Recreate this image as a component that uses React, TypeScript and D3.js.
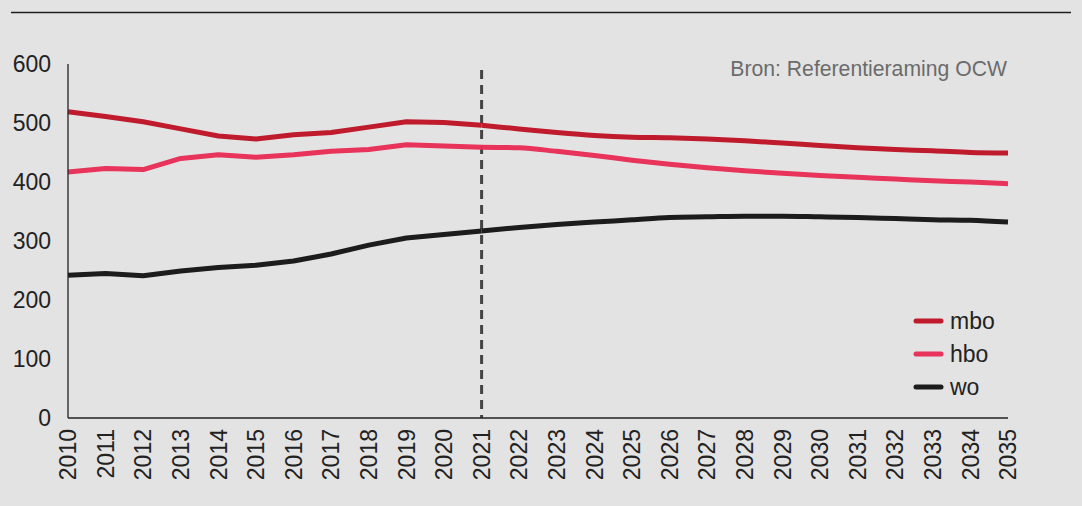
import React from "react";
import * as d3 from "d3";

const years: number[] = d3.range(2010, 2036);
const mbo: number[] = [519, 511, 502, 490, 478, 473, 480, 484, 493, 502, 501, 496, 490, 484, 479, 476, 475, 473, 470, 466, 462, 458, 455, 453, 450, 449];
const hbo: number[] = [417, 423, 421, 440, 446, 442, 446, 452, 455, 463, 461, 459, 458, 452, 445, 437, 430, 424, 419, 415, 411, 408, 405, 402, 400, 397];
const wo: number[] = [242, 245, 241, 249, 255, 259, 266, 278, 293, 305, 311, 317, 323, 328, 332, 336, 340, 341, 342, 342, 341, 340, 338, 336, 335, 332];
const yTicks: number[] = [0, 100, 200, 300, 400, 500, 600];
const splitYear = 2021;
const sourceText = "Bron: Referentieraming OCW";

const series = [
  { name: "mbo", values: mbo, color: "#bf1b2c" },
  { name: "hbo", values: hbo, color: "#e8335a" },
  { name: "wo", values: wo, color: "#1c1c1c" },
];

const W = 1082;
const H = 506;
const FONT = "'Liberation Sans', Arial, Helvetica, sans-serif";

export default function App() {
  const x = d3.scaleLinear().domain([2010, 2035]).range([68, 1008]);
  const y = d3.scaleLinear().domain([0, 600]).range([418, 64]);

  const linePast = d3
    .line<[number, number]>()
    .x((d) => x(d[0]))
    .y((d) => y(d[1]))
    .curve(d3.curveLinear);
  const lineFuture = d3
    .line<[number, number]>()
    .x((d) => x(d[0]))
    .y((d) => y(d[1]))
    .curve(d3.curveMonotoneX);

  return (
    <svg
      width={W}
      height={H}
      style={{ position: "absolute", left: 0, top: 0, fontFamily: FONT }}
    >
      <rect x={0} y={0} width={W} height={H} fill="#e3e3e3" />
      <line x1={11} x2={1071} y1={12.5} y2={12.5} stroke="#1e1e1e" strokeWidth={1.4} />

      {/* source */}
      <text x={1007} y={76} textAnchor="end" fontSize={21.2} fill="#6b6b6b">
        {sourceText}
      </text>

      {/* y ticks labels */}
      {yTicks.map((t) => (
        <text
          key={t}
          x={51}
          y={y(t)}
          dy="0.36em"
          textAnchor="end"
          fontSize={23}
          fill="#222"
        >
          {t}
        </text>
      ))}

      {/* x labels */}
      {years.map((yr) => (
        <text
          key={yr}
          transform={`translate(${x(yr)},429) rotate(-90)`}
          dy="0.36em"
          textAnchor="end"
          fontSize={23}
          fill="#222"
        >
          {yr}
        </text>
      ))}

      {/* dashed split line */}
      <line
        x1={x(splitYear)}
        x2={x(splitYear)}
        y1={70}
        y2={418}
        stroke="#444"
        strokeWidth={3}
        strokeDasharray="9,6"
      />

      {/* series */}
      {series.map((s) => {
        const pts: [number, number][] = years.map((yr, i) => [yr, s.values[i]]);
        const past = pts.filter((p) => p[0] <= splitYear);
        const fut = pts.filter((p) => p[0] >= splitYear);
        return (
          <g key={s.name}>
            <path d={linePast(past) || ""} fill="none" stroke={s.color} strokeWidth={5} strokeLinejoin="round" />
            <path d={lineFuture(fut) || ""} fill="none" stroke={s.color} strokeWidth={5} strokeLinejoin="round" />
          </g>
        );
      })}

      {/* axes */}
      <line x1={68} x2={68} y1={64} y2={418} stroke="#222" strokeWidth={1.3} />
      <line x1={68} x2={1008} y1={418} y2={418} stroke="#222" strokeWidth={1.3} />

      {/* legend */}
      {series.map((s, i) => {
        const ly = 321 + i * 33;
        return (
          <g key={s.name}>
            <line x1={916} x2={941} y1={ly} y2={ly} stroke={s.color} strokeWidth={5} strokeLinecap="round" />
            <text x={950} y={ly} dy="0.36em" fontSize={23} fill="#222">
              {s.name}
            </text>
          </g>
        );
      })}
    </svg>
  );
}
